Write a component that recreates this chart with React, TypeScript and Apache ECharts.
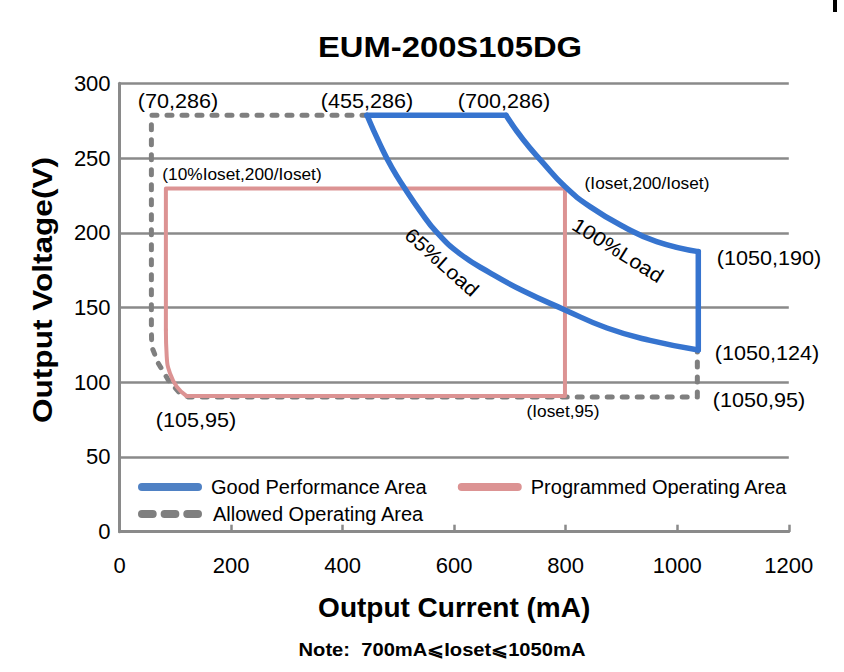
import React, { useEffect, useRef } from "react";
import * as echarts from "echarts";

const chartTitle = "EUM-200S105DG";
const xAxisName = "Output Current (mA)";
const yAxisName = "Output Voltage(V)";
const noteText = "Note:  700mA⩽Ioset⩽1050mA";

const seriesNames = ["Good Performance Area", "Programmed Operating Area", "Allowed Operating Area"];

// Good performance area (blue)
const goodTop: number[][] = [[443.6, 278.6], [692.8, 278.6]];
const load100: number[][] = [
  [692.8, 278.6], [723.9, 262.2], [759.7, 246.6], [798.6, 230.9], [843.5, 217.5],
  [903.2, 204.2], [963.1, 194.1], [1037.7, 187.4],
];
const goodRight: number[][] = [[1037.7, 187.4], [1037.7, 121.6]];
const load65: number[][] = [
  [443.6, 278.6], [467.0, 259.1], [488.5, 243.4], [511.8, 229.5], [538.7, 214.7],
  [569.2, 200.1], [610.4, 185.9], [664.2, 173.2], [723.3, 161.2], [798.6, 148.4],
  [873.9, 136.3], [951.0, 128.0], [1037.7, 121.6],
];

// Programmed operating area (pink)
const progMain: number[][] = [[83, 135], [83, 229.7], [798.6, 229.7], [798.6, 90.8], [120, 90.8]];
const progCorner: number[][] = [[120, 90.8], [102.4, 97.1], [90.4, 106], [84.5, 117.1], [83, 135]];

// Allowed operating area (gray dashed)
const allowed: number[][] = [
  [443.6, 278.6], [57, 278.6], [57, 135], [57.6, 123.8], [69.4, 112.7], [87.3, 101.5],
  [108.3, 92.6], [123, 90.2], [1036, 90.2], [1036, 121.6],
];

const annotations = [
  { text: "(70,286)", x: 178, y: 101, size: 20 },
  { text: "(455,286)", x: 367, y: 101, size: 20 },
  { text: "(700,286)", x: 504, y: 101, size: 20 },
  { text: "(10%Ioset,200/Ioset)", x: 242, y: 175, size: 16 },
  { text: "(Ioset,200/Ioset)", x: 647, y: 184, size: 16 },
  { text: "(1050,190)", x: 769, y: 258, size: 20 },
  { text: "(1050,124)", x: 767, y: 353, size: 20 },
  { text: "(1050,95)", x: 759, y: 400, size: 20 },
  { text: "(Ioset,95)", x: 563, y: 412, size: 16 },
  { text: "(105,95)", x: 196, y: 420, size: 20 },
];

const FONT = "'Liberation Sans', Arial, sans-serif";
const BLUE = "#3674cf";
const PINK = "#dc9393";
const GRAY = "#7f7f7f";
const GRID = "#8a8a8a";

const capsule = "path://M4,0 H60 A4,4 0 0 1 60,8 H4 A4,4 0 0 1 4,0 Z";
const dashIcon =
  "path://M4,0 H15 A4,4 0 0 1 15,8 H4 A4,4 0 0 1 4,0 Z M27,0 H38 A4,4 0 0 1 38,8 H27 A4,4 0 0 1 27,0 Z M50,0 H61 A4,4 0 0 1 61,8 H50 A4,4 0 0 1 50,0 Z";

function lineSeries(name: string, data: number[][], color: string, width: number, smooth: boolean, z: number, dash?: number[]) {
  return {
    type: "line",
    name,
    data,
    smooth,
    symbol: "none",
    showSymbol: false,
    z,
    itemStyle: { color },
    lineStyle: { color, width, type: dash ? dash : "solid", cap: "round", join: "round" },
    emphasis: { disabled: true },
  };
}

function label(text: string, x: number, y: number, size: number, opts: any = {}) {
  return {
    type: "text",
    x,
    y,
    z: 10,
    scaleX: opts.scaleX ?? 1.08,
    rotation: opts.rotation ?? 0,
    style: {
      text,
      fontSize: size,
      fontWeight: opts.bold ? "bold" : "normal",
      fontFamily: FONT,
      fill: "#000",
      align: "center",
      verticalAlign: "middle",
    },
  };
}

export default function App() {
  const ref = useRef<HTMLDivElement>(null);
  useEffect(() => {
    const chart = echarts.init(ref.current!, null, { renderer: "svg" });
    const option: any = {
      animation: false,
      backgroundColor: "#ffffff",
      textStyle: { fontFamily: FONT },
      grid: { left: 119.6, right: 55.2, top: 83.3, bottom: 140.3, containLabel: false },
      xAxis: {
        type: "value",
        min: 0,
        max: 1200,
        interval: 200,
        name: xAxisName,
        nameLocation: "middle",
        nameGap: 62,
        nameTextStyle: { fontSize: 28, fontWeight: "bold", color: "#000", fontFamily: FONT },
        axisLine: { show: true, lineStyle: { color: GRID, width: 3 } },
        axisTick: { show: true, inside: true, length: 7, lineStyle: { color: GRID, width: 2.5 } },
        axisLabel: { fontSize: 22, color: "#000", margin: 23, fontFamily: FONT, formatter: (v: number) => String(v) },
        splitLine: { show: false },
      },
      yAxis: {
        type: "value",
        min: 0,
        max: 300,
        interval: 50,
        axisLine: { show: true, lineStyle: { color: GRID, width: 3 } },
        axisTick: { show: false },
        axisLabel: { fontSize: 22, color: "#000", margin: 9, fontFamily: FONT, formatter: (v: number) => String(v) },
        splitLine: { show: true, lineStyle: { color: GRID, width: 2.5 } },
      },
      legend: [
        {
          left: 133,
          top: 472,
          orient: "horizontal",
          itemWidth: 64,
          itemHeight: 8,
          itemGap: 30,
          selectedMode: false,
          textStyle: { fontSize: 20, color: "#000", fontFamily: FONT, padding: [0, 0, 0, 4] },
          data: [
            { name: seriesNames[0], icon: capsule, itemStyle: { color: "#4f81c4" } },
            { name: seriesNames[1], icon: capsule, itemStyle: { color: PINK } },
          ],
        },
        {
          left: 133,
          top: 499,
          orient: "horizontal",
          itemWidth: 64,
          itemHeight: 8,
          selectedMode: false,
          textStyle: { fontSize: 20, color: "#000", fontFamily: FONT, padding: [0, 0, 0, 6] },
          data: [{ name: seriesNames[2], icon: dashIcon, itemStyle: { color: GRAY } }],
        },
      ],
      series: [
        lineSeries(seriesNames[2], allowed, GRAY, 5, false, 2, [5, 10]),
        lineSeries(seriesNames[1], progMain, PINK, 4, false, 3),
        lineSeries(seriesNames[1], progCorner, PINK, 4, true, 3),
        lineSeries(seriesNames[0], goodTop, BLUE, 5.5, false, 4),
        lineSeries(seriesNames[0], load100, BLUE, 5.5, true, 4),
        lineSeries(seriesNames[0], goodRight, BLUE, 5.5, false, 4),
        lineSeries(seriesNames[0], load65, BLUE, 5.5, true, 4),
      ],
      graphic: [
        label(chartTitle, 450, 47, 29, { bold: true, scaleX: 1.13 }),
        label(yAxisName, 42, 290, 27, { bold: true, scaleX: 1.17, rotation: Math.PI / 2 }),
        label(noteText, 442, 650, 18, { bold: true, scaleX: 1.12 }),
        ...annotations.map((a) => label(a.text, a.x, a.y, a.size)),
        label("65%Load", 442, 262, 20, { rotation: -0.73 }),
        label("100%Load", 618, 250, 20, { rotation: -0.56 }),
        { type: "rect", shape: { x: 833, y: 0, width: 4, height: 12 }, style: { fill: "#000" } },
      ],
    };
    chart.setOption(option);
    return () => chart.dispose();
  }, []);
  return (
    <div
      ref={ref}
      style={{ position: "fixed", left: 0, top: 0, width: 844, height: 672, background: "#fff" }}
    />
  );
}
